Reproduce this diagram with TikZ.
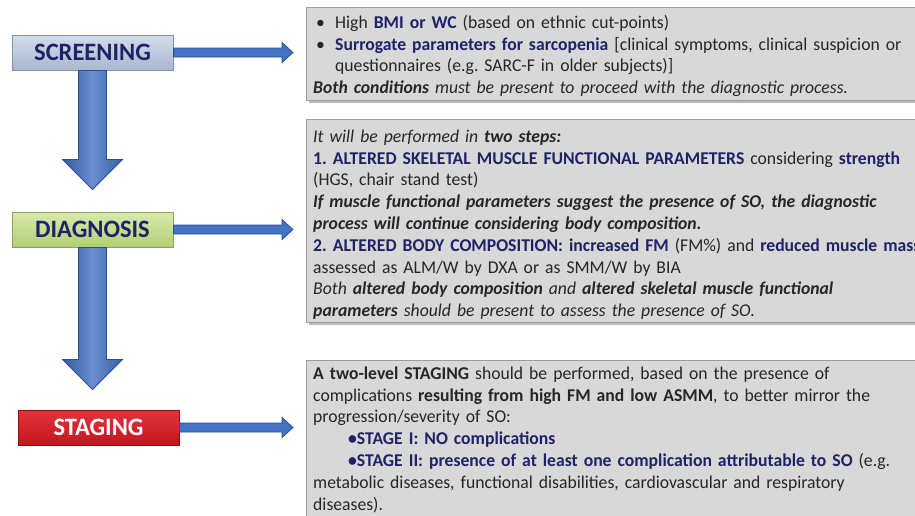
\documentclass[tikz,border=0pt]{standalone}
\usepackage{fontspec}
\setmainfont{Carlito}[FakeStretch=0.98]
\usetikzlibrary{calc,shadows}
\definecolor{navy}{HTML}{1F2266}
\definecolor{txt}{HTML}{262626}
\definecolor{boxfill}{HTML}{D8D8D8}
\definecolor{boxedge}{HTML}{9C9C9C}
\definecolor{arrfill}{HTML}{4472C4}
\definecolor{arredge}{HTML}{2B4F94}
\definecolor{scrtop}{HTML}{D2DCEA}
\definecolor{scrbot}{HTML}{A8B8D0}
\definecolor{scredge}{HTML}{8292AE}
\definecolor{diatop}{HTML}{D8EAAE}
\definecolor{diabot}{HTML}{B2CF74}
\definecolor{diaedge}{HTML}{8AA653}
\definecolor{stgtop}{HTML}{E3343D}
\definecolor{stgbot}{HTML}{C2161F}
\definecolor{stgedge}{HTML}{8E0E14}
\newcommand{\nv}[1]{{\color{navy}\bfseries #1}}
\newcommand{\bi}[1]{{\bfseries\itshape #1}}
\newcommand{\hblockarrow}[2]{%
  \fill[arrfill, draw=arredge, line width=0.8pt]
    ($(#1)+(0,-4.5)$) -- ($(#2)+(-11,-4.5)$) -- ($(#2)+(-11,-10)$) -- (#2)
    -- ($(#2)+(-11,10)$) -- ($(#2)+(-11,4.5)$) -- ($(#1)+(0,4.5)$) -- cycle;}
\newcommand{\vblockarrow}[2]{%
  \path[left color=arrfill!80!black, right color=arrfill!85!black, middle color=arrfill!80!white,
        draw=arredge, line width=0.8pt]
    ($(#1)+(-14,0)$) -- ($(#2)+(-14,-30)$) -- ($(#2)+(-30,-30)$) -- (#2)
    -- ($(#2)+(30,-30)$) -- ($(#2)+(14,-30)$) -- ($(#1)+(14,0)$) -- cycle;}
\frenchspacing
\begin{document}
\begin{tikzpicture}[x=1pt,y=-1pt,
  label/.style={minimum width=161pt, minimum height=35pt, inner sep=0pt,
    font=\fontsize{25}{29}\selectfont\bfseries, line width=1pt},
  infobox/.style={fill=boxfill, draw=boxedge, line width=1pt, anchor=north west,
    minimum width=640pt, inner sep=0pt,
    drop shadow={shadow xshift=2pt, shadow yshift=-2.5pt, fill=black!45, opacity=0.6}},
  boxtext/.style={anchor=north west, inner sep=0pt, text width=640pt, align=left,
    text=txt, font=\fontsize{18}{21.8}\selectfont}]
\path[use as bounding box] (0,0) rectangle (915,515);
\clip (0,0) rectangle (915,515);
\fill[white] (0,0) rectangle (915,515);

% info boxes
\node[infobox, minimum height=93pt] (b1) at (306,7) {};
\node[infobox, minimum height=203pt] (b2) at (306,119) {};
\node[infobox, minimum height=175pt] (b3) at (306,360) {};

% labels
\node[label, top color=scrtop, bottom color=scrbot, draw=scredge, text=navy]
  (scr) at (92.5,52.5) {SCREENING};
\node[label, top color=diatop, bottom color=diabot, draw=diaedge, text=navy]
  (dia) at (92.5,229.5) {DIAGNOSIS};
\node[label, top color=stgtop, bottom color=stgbot, draw=stgedge, text=white]
  (stg) at (98.5,427.5) {STAGING};

% arrow tips
\coordinate (t1) at ($(scr.east -| b1.west)+(-13,0)$);
\coordinate (t2) at ($(dia.east -| b2.west)+(-13,0)$);
\coordinate (t3) at ($(stg.east -| b3.west)+(-13,0)$);
\coordinate (v1) at ($(scr.south)+(0,119)$);
\coordinate (v2) at ($(dia.south)+(0,142)$);
\hblockarrow{scr.east}{t1}
\hblockarrow{dia.east}{t2}
\hblockarrow{stg.east}{t3}
\vblockarrow{scr.south}{v1}
\vblockarrow{dia.south}{v2}

% texts
\node[boxtext] (x1) at (313,15) {\rule{0pt}{13pt}%
\hspace*{3pt}\makebox[19pt][l]{•}High \nv{BMI or WC} (based on ethnic cut-points)\\
\hspace*{3pt}\makebox[19pt][l]{•}\nv{Surrogate parameters for sarcopenia} [clinical symptoms, clinical suspicion or\\
\hspace*{22pt}questionnaires (e.g. SARC-F in older subjects)]\\
\bi{Both conditions} \textit{must be present to proceed with the diagnostic process.}};

\node[boxtext] (x2) at (313,129) {\rule{0pt}{13pt}%
\textit{It will be performed in} \bi{two steps:}\\
\nv{1. ALTERED SKELETAL MUSCLE FUNCTIONAL PARAMETERS} considering \nv{strength}\\
(HGS, chair stand test)\\
\bi{If muscle functional parameters suggest the presence of SO, the diagnostic}\\
\bi{process will continue considering body composition.}\\
\nv{2. ALTERED BODY COMPOSITION:} \nv{increased FM} (FM\%) and \nv{reduced muscle mass}\\
assessed as ALM/W by DXA or as SMM/W by BIA\\
\textit{Both} \bi{altered body composition} \textit{and} \bi{altered skeletal muscle functional}\\
\bi{parameters} \textit{should be present to assess the presence of SO.}};

\node[boxtext] (x3) at (313,366) {\rule{0pt}{13pt}%
\textbf{A two-level STAGING} should be performed, based on the presence of\\
complications \textbf{resulting from high FM and low ASMM}, to better mirror the\\
progression/severity of SO:\\
\hspace*{35pt}\nv{•STAGE I: NO complications}\\
\hspace*{35pt}\nv{•STAGE II: presence of at least one complication attributable to SO} (e.g.\\
metabolic diseases, functional disabilities, cardiovascular and respiratory\\
diseases).};
\end{tikzpicture}
\end{document}
